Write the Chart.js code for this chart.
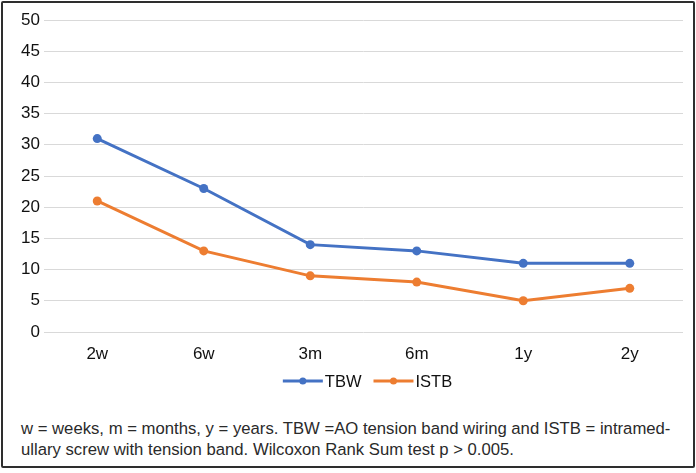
<!DOCTYPE html>
<html>
<head>
<meta charset="utf-8">
<script src="https://cdn.jsdelivr.net/npm/chart.js@4/dist/chart.umd.min.js"></script>
<style>
  html,body{margin:0;padding:0;background:#fff;}
  #frame{position:absolute;left:1px;top:1px;width:690px;height:463px;border:2px solid #2e2e2e;border-radius:2px;background:#fff;}
  #wrap{position:absolute;left:0;top:0;width:690px;height:400px;}
  #note{position:absolute;left:18px;top:415px;width:670px;font:16.7px "Liberation Sans",Arial,sans-serif;color:#2a2a2a;line-height:21px;white-space:pre;}
</style>
</head>
<body>
<div id="frame">
  <div id="wrap"><canvas id="c"></canvas></div>
  <div id="note">w = weeks, m = months, y = years. TBW =AO tension band wiring and ISTB = intramed-
ullary screw with tension band. Wilcoxon Rank Sum test p &gt; 0.005.</div>
</div>
<script>
// time points and mean values per group
const labels = ["2w","6w","3m","6m","1y","2y"];
const tbw  = [31, 23, 14, 13, 11, 11];
const istb = [21, 13, 9, 8, 5, 7];
const yTicks = [0,5,10,15,20,25,30,35,40,45,50];

const BLUE = "#4472c4", ORANGE = "#ed7d31";
const FONT = "'Liberation Sans', Arial, sans-serif";

// legend drawn as line + dot, centred under the axis
const lineLegend = {id:"lineLegend", afterDraw(c){
  const {ctx} = c; ctx.save();
  ctx.font = "16.5px " + FONT; ctx.textBaseline = "middle";
  const items = c.data.datasets.map(d => ({t:d.label, col:d.borderColor, w:ctx.measureText(d.label).width}));
  const sw = 40, gap = 2, sep = 12;
  const total = items.reduce((s,i)=>s+sw+gap+i.w,0) + sep*(items.length-1);
  let x = (c.chartArea.left + c.chartArea.right)/2 - total/2 + 4;
  const y = 378;
  items.forEach(i => {
    ctx.strokeStyle = i.col; ctx.lineWidth = 3;
    ctx.beginPath(); ctx.moveTo(x, y); ctx.lineTo(x+sw, y); ctx.stroke();
    ctx.fillStyle = i.col; ctx.beginPath(); ctx.arc(x+sw/2, y, 3.5, 0, Math.PI*2); ctx.fill();
    ctx.fillStyle = "#111"; ctx.fillText(i.t, x+sw+gap, y+1);
    x += sw+gap+i.w+sep;
  });
  ctx.restore();
}};

new Chart(document.getElementById("c"), {
  type: "line",
  data: {labels, datasets: [
    {label:"TBW", data:tbw, borderColor:BLUE, backgroundColor:BLUE, borderWidth:3, pointRadius:4.5, pointBorderWidth:0, tension:0},
    {label:"ISTB", data:istb, borderColor:ORANGE, backgroundColor:ORANGE, borderWidth:3, pointRadius:4.5, pointBorderWidth:0, tension:0}
  ]},
  options: {
    responsive:true, maintainAspectRatio:false, animation:false,
    layout:{padding:{top:17, right:10, bottom:31, left:0}},
    plugins:{legend:{display:false}, tooltip:{enabled:false}},
    scales:{
      x:{offset:true, grid:{display:false}, border:{display:false},
         afterFit:ax=>{ax.height=40;},
         ticks:{color:"#111", font:{family:FONT, size:17}, padding:4}},
      y:{min:0, max:50, afterBuildTicks:ax=>{ax.ticks=yTicks.map(v=>({value:v}));},
         afterFit:ax=>{ax.width=41;},
         grid:{color:"#d9d9d9", lineWidth:1, drawTicks:false}, border:{display:false},
         ticks:{color:"#111", font:{family:FONT, size:17}, padding:4}}
    }
  },
  plugins:[lineLegend]
});
</script>
</body>
</html>
